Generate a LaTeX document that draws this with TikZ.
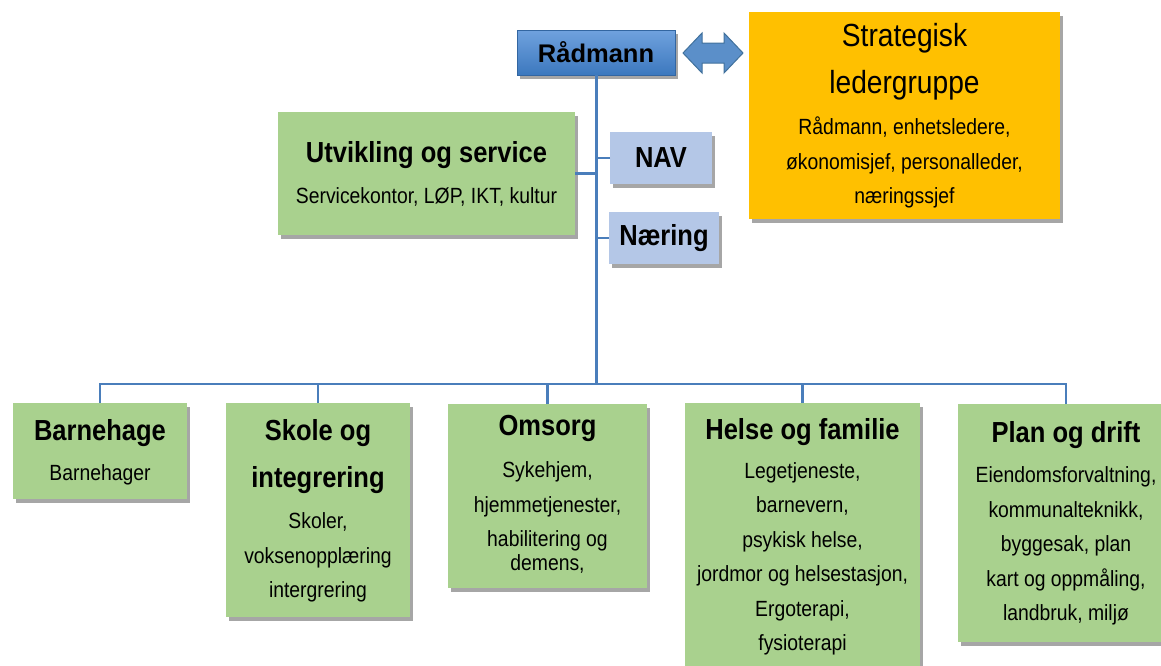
\documentclass[tikz,border=0pt]{standalone}
\usepackage{fontspec}
\setmainfont{Liberation Sans}[FakeStretch=0.88]
\newfontfamily\radfont{Liberation Sans}
\usetikzlibrary{shadows}
\definecolor{grn}{RGB}{169,209,142}
\definecolor{lblue}{RGB}{180,199,231}
\definecolor{gold}{RGB}{255,192,0}
\definecolor{lnblue}{RGB}{74,126,187}
\definecolor{radtop}{RGB}{112,162,222}
\definecolor{radbot}{RGB}{60,120,190}
\definecolor{arrfill}{RGB}{91,143,201}
\definecolor{arrline}{RGB}{65,113,156}
\begin{document}
\begin{tikzpicture}[x=1pt,y=-1pt,
  box/.style={draw=none, inner sep=0pt, outer sep=0pt,
    drop shadow={shadow xshift=3pt, shadow yshift=-4pt, opacity=0.35, fill=black}},
  gbox/.style={box, fill=grn},
  bbox/.style={box, fill=lblue},
  txt/.style={inner sep=0pt, align=center},
  hd/.style={txt, font=\fontsize{29}{47}\selectfont\bfseries},
  bd/.style={txt, font=\fontsize{22}{34.5}\selectfont},
  conn/.style={draw=lnblue, line width=2.2pt},
  trunk/.style={draw=lnblue, line width=3pt}
]
\useasboundingbox (0,0) rectangle (1161,665);
\clip (0,0) rectangle (1161,665);

% boxes
\node[box, top color=radtop, bottom color=radbot, draw=radbot!85!black, line width=0.6pt,
      minimum width=158pt, minimum height=45pt] (rad) at (596,52.5) {};
\node[box, fill=gold, minimum width=311pt, minimum height=207pt] (slg) at (904.5,115.5) {};
\node[gbox, minimum width=297pt, minimum height=123pt] (ut) at (426.5,173.5) {};
\node[bbox, minimum width=102pt, minimum height=52pt] (nav) at (661,158) {};
\node[bbox, minimum width=110pt, minimum height=52pt] (nae) at (664,238) {};
\node[gbox, minimum width=174pt, minimum height=96pt] (bh) at (100,451) {};
\node[gbox, minimum width=184pt, minimum height=214pt] (sk) at (318,510) {};
\node[gbox, minimum width=199pt, minimum height=184pt] (om) at (547.5,496) {};
\node[gbox, minimum width=235pt, minimum height=297pt] (hf) at (802.5,551.5) {};
\node[gbox, minimum width=216pt, minimum height=238pt] (pd) at (1066,523) {};

% connectors
\coordinate (junc) at (596,384);
\draw[trunk] (rad.south) -- (junc);
\draw[conn] (ut.east) -- (ut.east -| junc);
\draw[conn] (nav.west) -- (nav.west -| junc);
\draw[conn] (nae.west) -- (nae.west -| junc);
\draw[conn] (bh.north) |- (junc);
\draw[conn] (sk.north) |- (junc);
\draw[conn] (om.north) |- (junc);
\draw[conn] (hf.north) |- (junc);
\draw[conn] (pd.north) |- (junc);

% double arrow
\draw[fill=arrfill, draw=arrline, line width=1pt, line join=miter]
  (683,53) -- (702,33) -- (702,43) -- (724,43) -- (724,33) -- (743,53)
  -- (724,73) -- (724,63) -- (702,63) -- (702,73) -- cycle;

% texts
\node[txt, font=\fontsize{25.5}{30}\selectfont\radfont\bfseries] (rad-t) at (596,52) {Rådmann};
\node[txt, font=\fontsize{32}{47}\selectfont] (slg-t) at (904.5,61.5) {Strategisk\\ledergruppe};
\node[bd] (slg-b) at (904.5,162.5) {Rådmann, enhetsledere,\\økonomisjef, personalleder,\\næringssjef};
\node[hd] (ut-t) at (426.5,155) {Utvikling og service};
\node[bd] (ut-b) at (426.5,197) {Servicekontor, LØP, IKT, kultur};
\node[hd] (nav-t) at (661,158) {NAV};
\node[hd] (nae-t) at (664,238) {Næring};
\node[hd] (bh-t) at (100,433) {Barnehage};
\node[bd] (bh-b) at (100,475) {Barnehager};
\node[hd] (sk-t) at (318,456.5) {Skole og\\integrering};
\node[bd] (sk-b) at (318,557.5) {Skoler,\\voksenopplæring\\intergrering};
\node[hd] (om-t) at (547.5,428) {Omsorg};
\node[bd] (om-b) at (547.5,517.5) {Sykehjem,\\hjemmetjenester,\\habilitering og\\[-11pt]demens,};
\node[hd] (hf-t) at (802.5,432) {Helse og familie};
\node[bd] (hf-b) at (802.5,559) {Legetjeneste,\\barnevern,\\psykisk helse,\\jordmor og helsestasjon,\\Ergoterapi,\\fysioterapi};
\node[hd] (pd-t) at (1066,435) {Plan og drift};
\node[bd] (pd-b) at (1066,546) {Eiendomsforvaltning,\\kommunalteknikk,\\byggesak, plan\\kart og oppmåling,\\landbruk, miljø};
\end{tikzpicture}
\end{document}
